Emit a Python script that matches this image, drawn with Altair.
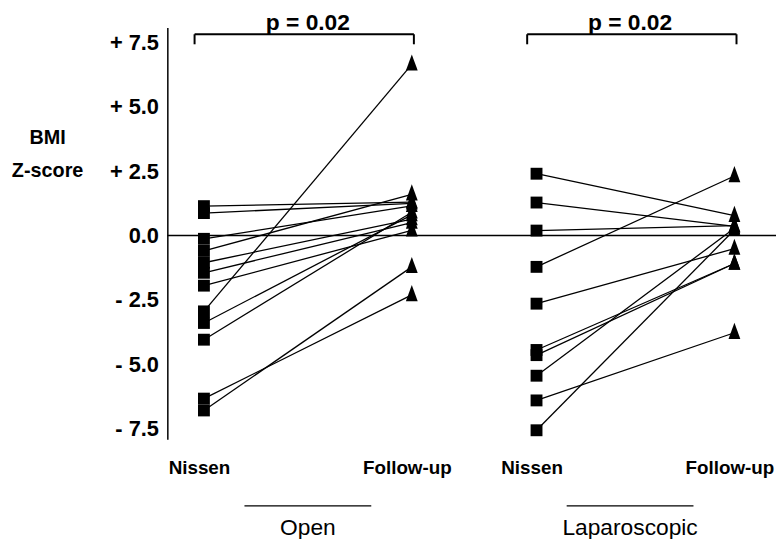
import altair as alt
import pandas as pd

# ---- data ----
open_nissen   = [1.14, 0.87, -0.13, -0.60, -1.06, -1.45, -1.95, -2.95, -3.40, -4.05, -6.34, -6.80]
open_followup = [1.30, 1.25, 1.15, 1.60, 0.64, 0.50, 0.20, 6.65, 0.80, 0.90, -2.31, -1.22]
lap_nissen    = [2.40, 1.28, 0.19, -1.22, -2.65, -4.45, -4.65, -5.45, -6.41, -7.57]
lap_followup  = [0.77, 0.35, 0.38, 2.31, -0.51, -1.09, -1.09, 0.28, -3.78, 0.22]
groups = ["Open", "Laparoscopic"]
p_values = ["p = 0.02", "p = 0.02"]
timepoints = ["Nissen", "Follow-up"]
y_ticks = [-7.5, -5.0, -2.5, 0.0, 2.5, 5.0, 7.5]
y_title = ["BMI", "Z-score"]

# ---- layout (x slots on a linear scale) ----
slots = {("Open", "Nissen"): 0.0, ("Open", "Follow-up"): 1.0,
         ("Laparoscopic", "Nissen"): 1.6, ("Laparoscopic", "Follow-up"): 2.552}
group_centers = {"Open": 0.5, "Laparoscopic": 2.05}

rows = []
for g, pre, post in [("Open", open_nissen, open_followup),
                     ("Laparoscopic", lap_nissen, lap_followup)]:
    for i, (a, b) in enumerate(zip(pre, post)):
        rows.append(dict(subject=f"{g}{i}", group=g, time="Nissen", x=slots[(g, "Nissen")], z=a))
        rows.append(dict(subject=f"{g}{i}", group=g, time="Follow-up", x=slots[(g, "Follow-up")], z=b))
df = pd.DataFrame(rows)

xs = alt.Scale(domain=[-0.176, 2.752], nice=False, zero=False)
ys = alt.Scale(domain=[-7.92, 8.08], nice=False, zero=False)
FONT = "Liberation Sans"

X = alt.X("x:Q", scale=xs, title=None,
          axis=alt.Axis(values=sorted(slots.values()),
                        labelExpr="(datum.value < 0.5 || (datum.value > 1.5 && datum.value < 2)) ? 'Nissen' : 'Follow-up'",
                        domain=False, ticks=False, tickSize=0, grid=False,
                        labelFont=FONT, labelFontSize=19, labelFontWeight="bold",
                        labelColor="black", labelPadding=29, labelOffset=-5,
                        labelBaseline="middle", labelFlush=False, labelOverlap=False))
Y = alt.Y("z:Q", scale=ys, title=None,
          axis=alt.Axis(values=y_ticks,
                        labelExpr="datum.value > 0 ? '+ ' + format(datum.value, '.1f') : (datum.value < 0 ? '- ' + format(-datum.value, '.1f') : '0.0')",
                        domain=True, domainColor="black", domainWidth=1.5,
                        ticks=False, tickSize=0, grid=False,
                        labelFont=FONT, labelFontSize=22, labelFontWeight="bold",
                        labelColor="black", labelPadding=9, labelFlush=False, labelOverlap=False))

lines = alt.Chart(df).mark_line(color="black", strokeWidth=1.3).encode(
    x=X, y=Y, detail="subject:N")

squares = alt.Chart(df[df.time == "Nissen"]).mark_point(
    shape="square", filled=True, size=144, color="black", opacity=1).encode(x=X, y=Y)

triangles = alt.Chart(df[df.time == "Follow-up"]).mark_point(
    shape="M0,-1.55L0.92,0.97L-0.92,0.97Z", filled=True, size=169, color="black", opacity=1).encode(x=X, y=Y)

zero = alt.Chart(pd.DataFrame({"z": [0.0]})).mark_rule(color="black", strokeWidth=1.5).encode(y=Y)

# brackets with p values
br = []
for g in groups:
    br.append(dict(x=slots[(g, "Nissen")] - 0.045, x2=slots[(g, "Follow-up")] + 0.01, z=7.82, z2=7.43))
br_df = pd.DataFrame(br)
br_h = alt.Chart(br_df).mark_rule(color="black", strokeWidth=2).encode(
    x=X, x2="x2:Q", y=Y)
br_v = pd.concat([br_df[["x", "z", "z2"]],
                  br_df[["x2", "z", "z2"]].rename(columns={"x2": "x"})])
br_ticks = alt.Chart(br_v).mark_rule(color="black", strokeWidth=2).encode(
    x=X, y=Y, y2="z2:Q")

p_df = pd.DataFrame({"x": [group_centers[g] for g in groups], "z": [8.25, 8.25], "label": p_values})
p_text = alt.Chart(p_df).mark_text(font=FONT, fontSize=23, fontWeight="bold",
                                   color="black", baseline="middle", align="center").encode(
    x=X, y=Y, text="label:N")

# group underlines and names
ul_df = pd.DataFrame({"x": [group_centers[g] - 0.305 for g in groups],
                      "x2": [group_centers[g] + 0.305 for g in groups],
                      "z": [-10.51, -10.51]})
underline = alt.Chart(ul_df).mark_rule(color="black", strokeWidth=1.3).encode(x=X, x2="x2:Q", y=Y)
gn_df = pd.DataFrame({"x": [group_centers[g] for g in groups], "z": [-11.36, -11.36], "label": groups})
gname = alt.Chart(gn_df).mark_text(font=FONT, fontSize=23, color="black",
                                   baseline="middle", align="center").encode(
    x=X, y=Y, text="label:N")

# y title as two lines
yt_df = pd.DataFrame({"x": [-0.752, -0.752], "z": [3.80, 2.52], "label": y_title})
ytitle = alt.Chart(yt_df).mark_text(font=FONT, fontSize=20, fontWeight="bold",
                                    color="black", baseline="middle", align="center").encode(
    x=X, y=Y, text="label:N")

chart = alt.layer(zero, lines, squares, triangles, br_h, br_ticks, p_text,
                  underline, gname, ytitle).properties(
    width=615, height=416,
    autosize=alt.AutoSizeParams(type="none"),
    padding={"left": 161, "top": 17, "right": 0, "bottom": 98},
    background="white",
).configure_view(stroke=None)

chart.save("out.html", embed_options={"renderer": "svg", "actions": False})
